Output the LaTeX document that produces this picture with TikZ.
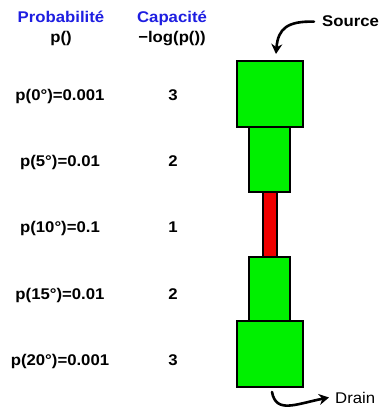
\documentclass[tikz,border=0pt]{standalone}
\usepackage{fontspec}
\setmainfont{Liberation Sans}[FakeStretch=1.08]
\usepackage{xcolor}
\usepackage{tikz}
\usetikzlibrary{arrows.meta}
\definecolor{headblue}{RGB}{30,30,225}
\definecolor{pipegreen}{RGB}{0,240,0}
\definecolor{pipered}{RGB}{240,0,0}

\begin{document}
\begin{tikzpicture}[x=1pt, y=-1pt,
    lbl/.style={font=\fontsize{15.5}{18}\selectfont\bfseries, anchor=base},
    head/.style={lbl, text=headblue},
    pipe/.style 2 args={draw=black, line width=1.3pt, fill=pipegreen, inner sep=0pt,
        minimum width=#1, minimum height=#2},
    flow/.style={line width=2.6pt, line cap=round, -{Stealth[length=10pt, width=11pt]}}]
    \useasboundingbox (0,0) rectangle (385,420);

    % column headers
    \node[head] (hprob) at (61,23) {Probabilité};
    \node[lbl] (hp) at (61,42) {p()};
    \node[head] (hcap) at (172,23) {Capacité};
    \node[lbl] (hlog) at (172,42) {−log(p())};

    \node[lbl] (p0) at (60,100) {p(0°)=0.001};
    \node[lbl] (p5) at (60,166) {p(5°)=0.01};
    \node[lbl] (p10) at (60,232) {p(10°)=0.1};
    \node[lbl] (p15) at (60,299) {p(15°)=0.01};
    \node[lbl] (p20) at (60,365) {p(20°)=0.001};

    \node[lbl] (c0) at (173,100) {3};
    \node[lbl] (c5) at (173,166) {2};
    \node[lbl] (c10) at (173,232) {1};
    \node[lbl] (c15) at (173,299) {2};
    \node[lbl] (c20) at (173,365) {3};

    % the pipe, one piece per angle
    \node[pipe={66}{66}] (b0) at (270,94) {};
    \node[pipe={41}{65}] (b5) at (269.5,159.5) {};
    \node[pipe={14}{65}, fill=pipered] (b10) at (270,224.5) {};
    \node[pipe={41}{64}] (b15) at (269.5,289) {};
    \node[pipe={66}{66}] (b20) at (270,354) {};

    % in and out
    \node[lbl, anchor=base west, inner xsep=8pt] (src) at (314,27) {Source};
    \coordinate (srcend) at (276,54);
    \draw[flow] (src.west) .. controls (288,21) and (278,28) .. (srcend);

    \node[lbl, font=\fontsize{15.5}{18}\selectfont, anchor=base west, inner xsep=6pt] (drn) at (329,403) {Drain};
    \coordinate (drnstart) at (272,392);
    \draw[flow] (drnstart) .. controls (276,414) and (296,404) .. (drn.west);
\end{tikzpicture}
\end{document}
